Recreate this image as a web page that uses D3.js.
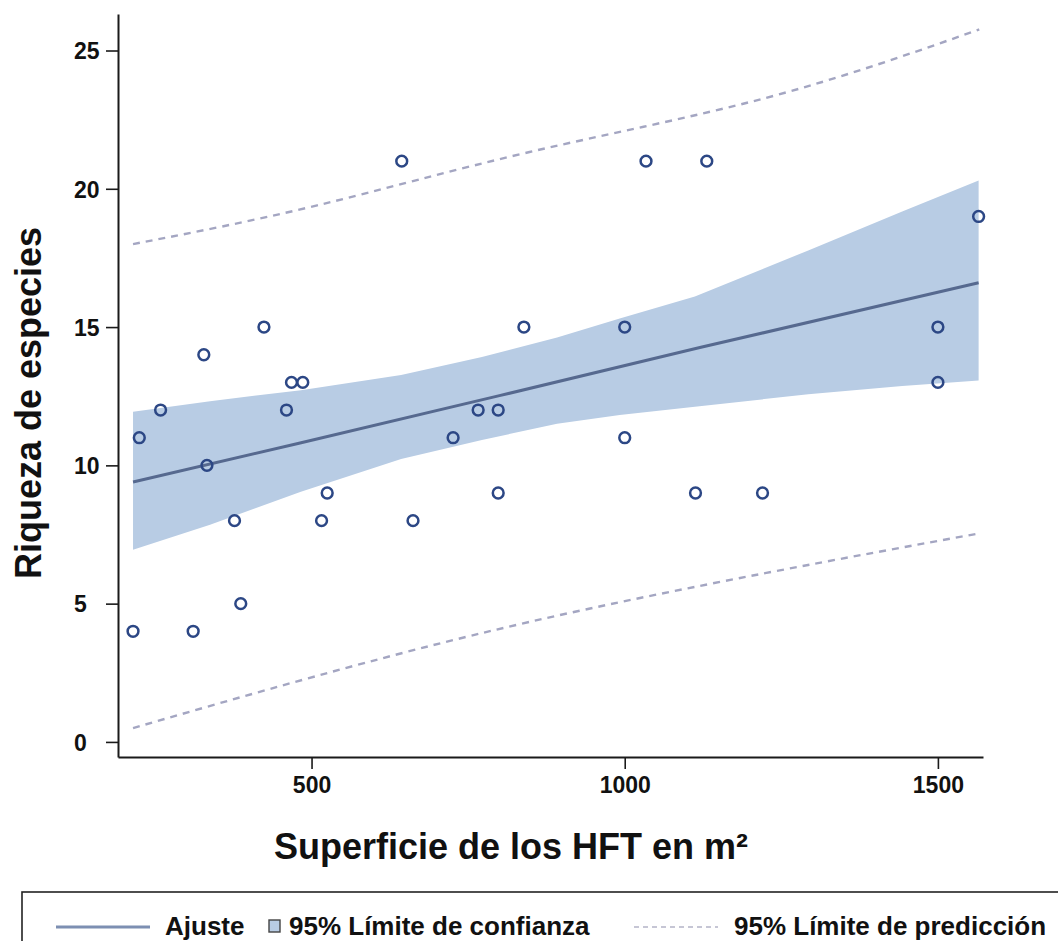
<!DOCTYPE html>
<html>
<head>
<meta charset="utf-8">
<script src="https://cdn.jsdelivr.net/npm/d3@7"></script>
<style>
  html, body { margin: 0; padding: 0; background: #ffffff; }
  svg { display: block; font-family: "Liberation Sans", Arial, Helvetica, sans-serif; }
</style>
</head>
<body>
<svg id="chart" width="1058" height="941"></svg>
<script>
// Observed sites: surface (m²) and species richness
const areaM2   = [215, 225, 259, 311, 328, 333, 377, 387, 424, 460, 468, 486, 516, 525, 644,
                  662, 726, 766, 798, 798, 839, 1000, 1000, 1034, 1113, 1131, 1220, 1500, 1500, 1565];
const richness = [4, 11, 12, 4, 14, 10, 8, 5, 15, 12, 13, 13, 8, 9, 21,
                  8, 11, 12, 12, 9, 15, 15, 11, 21, 9, 21, 9, 15, 13, 19];

// Fitted line
const fitX = [215, 480, 800, 1120, 1565];
const fitY = [9.40, 10.80, 12.52, 14.26, 16.60];

// 95% confidence band of the fit
const ciX     = [215, 338, 483, 643, 772, 892, 992, 1112, 1293, 1443, 1565];
const ciUpper = [11.94, 12.32, 12.72, 13.27, 13.92, 14.62, 15.31, 16.11, 17.77, 19.18, 20.30];
const ciLower = [6.95, 7.85, 9.05, 10.23, 10.92, 11.50, 11.82, 12.12, 12.57, 12.87, 13.07];

// 95% prediction limits
const piX     = [215, 509, 848, 1226, 1566];
const piUpper = [18.0, 19.4, 21.33, 23.29, 25.76];
const piLower = [0.50, 2.39, 4.34, 6.11, 7.54];

// Axis ticks and labels
const xTicks = [500, 1000, 1500];
const yTicks = [0, 5, 10, 15, 20, 25];
const xTitle = "Superficie de los HFT en m²";
const yTitle = "Riqueza de especies";
const legendLabels = ["Ajuste", "95% Límite de confianza", "95% Límite de predicción"];

const COL_BAND = "#b8cce4";
const COL_FIT = "#56698f";
const COL_PT = "#2c4785";
const COL_PRED = "#a4a6c2";

const svg = d3.select("#chart");

const x = d3.scaleLinear().domain([191, 1572]).range([118, 983]);
const y = d3.scaleLinear().domain([-0.545, 26.32]).range([757, 14]);

// Confidence band
const band = ciX.map((v, i) => ({ x: v, lo: ciLower[i], hi: ciUpper[i] }));
svg.append("path")
  .datum(band)
  .attr("fill", COL_BAND)
  .attr("d", d3.area().x(d => x(d.x)).y0(d => y(d.lo)).y1(d => y(d.hi)));

// Prediction limits
const predLine = d3.line().x(d => x(d[0])).y(d => y(d[1])).curve(d3.curveNatural);
[piUpper, piLower].forEach(series => {
  svg.append("path")
    .datum(piX.map((v, i) => [v, series[i]]))
    .attr("fill", "none")
    .attr("stroke", COL_PRED)
    .attr("stroke-width", 2.4)
    .attr("stroke-dasharray", "7,6")
    .attr("d", predLine);
});

// Fit line
svg.append("path")
  .datum(fitX.map((v, i) => [v, fitY[i]]))
  .attr("fill", "none")
  .attr("stroke", COL_FIT)
  .attr("stroke-width", 3)
  .attr("d", d3.line().x(d => x(d[0])).y(d => y(d[1])));

// Observations
svg.append("g")
  .selectAll("circle")
  .data(areaM2.map((v, i) => [v, richness[i]]))
  .join("circle")
  .attr("cx", d => x(d[0]))
  .attr("cy", d => y(d[1]))
  .attr("r", 5.4)
  .attr("fill", "none")
  .attr("stroke", COL_PT)
  .attr("stroke-width", 2.5);

// Axes
const yAxis = svg.append("g")
  .attr("transform", `translate(${x.range()[0]},0)`)
  .call(d3.axisLeft(y).tickValues(yTicks).tickSize(12).tickSizeOuter(0).tickFormat(d3.format("d")));
yAxis.select(".domain").attr("stroke", "#1a1a1a").attr("stroke-width", 2);
yAxis.selectAll(".tick line").attr("stroke", "#1a1a1a").attr("stroke-width", 1.6);
yAxis.selectAll(".tick text")
  .attr("x", -44)
  .attr("dy", "0.36em")
  .attr("text-anchor", "start")
  .attr("fill", "#111")
  .style("font-size", "23px")
  .style("font-weight", "bold");

const xAxis = svg.append("g")
  .attr("transform", `translate(0,${y.range()[0]})`)
  .call(d3.axisBottom(x).tickValues(xTicks).tickSize(12).tickSizeOuter(0).tickFormat(d3.format("d")));
xAxis.select(".domain").attr("stroke", "#1a1a1a").attr("stroke-width", 2);
xAxis.selectAll(".tick line").attr("stroke", "#1a1a1a").attr("stroke-width", 1.6);
xAxis.selectAll(".tick text")
  .attr("y", 20)
  .attr("dy", "0.71em")
  .attr("fill", "#111")
  .style("font-size", "23px")
  .style("font-weight", "bold");

// Axis titles
svg.append("text")
  .attr("transform", "translate(41,403) rotate(-90)")
  .attr("text-anchor", "middle")
  .attr("fill", "#111")
  .style("font-size", "36px")
  .style("font-weight", "bold")
  .text(yTitle);

svg.append("text")
  .attr("x", 511)
  .attr("y", 859)
  .attr("text-anchor", "middle")
  .attr("fill", "#111")
  .style("font-size", "36px")
  .style("font-weight", "bold")
  .text(xTitle);

// Legend
const lg = svg.append("g");
lg.append("rect")
  .attr("x", 22).attr("y", 892)
  .attr("width", 1100).attr("height", 120)
  .attr("fill", "#fff")
  .attr("stroke", "#222")
  .attr("stroke-width", 1.6);

const legY = 927;
const legText = (tx, label) => lg.append("text")
  .attr("x", tx).attr("y", 935)
  .attr("fill", "#111")
  .style("font-size", "26px")
  .style("font-weight", "bold")
  .text(label);

lg.append("line")
  .attr("x1", 56).attr("x2", 150).attr("y1", legY).attr("y2", legY)
  .attr("stroke", "#7d8fb2").attr("stroke-width", 3);
legText(165, legendLabels[0]);

lg.append("rect")
  .attr("x", 269).attr("y", 920).attr("width", 11).attr("height", 12)
  .attr("fill", COL_BAND).attr("stroke", "#444").attr("stroke-width", 1.4);
legText(289, legendLabels[1]);

lg.append("line")
  .attr("x1", 634).attr("x2", 718).attr("y1", legY).attr("y2", legY)
  .attr("stroke", "#b4b4c8").attr("stroke-width", 1.6)
  .attr("stroke-dasharray", "5,4");
legText(734, legendLabels[2]);
</script>
</body>
</html>
